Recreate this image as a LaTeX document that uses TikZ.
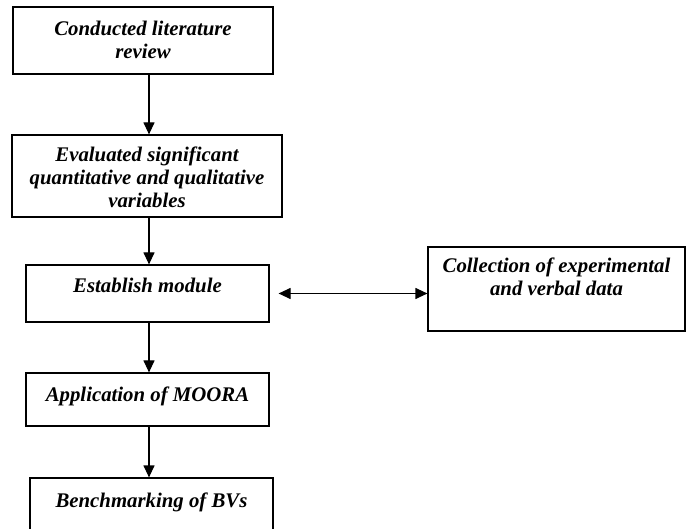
\documentclass[tikz,border=0pt]{standalone}
\usepackage{fontspec}
\setmainfont{Liberation Serif}
\usetikzlibrary{arrows.meta}
\tikzset{
	stepbox/.style={draw, line width=1.2pt, inner xsep=2pt, inner ysep=0pt, align=center,
		font=\fontsize{20.8}{23}\selectfont\bfseries\itshape},
	flow/.style={line width=1.2pt, -{Triangle[length=12pt,width=11pt]}},
	twoway/.style={line width=1.2pt, {Triangle[length=12pt,width=11pt]}-{Triangle[length=12pt,width=11pt]}}
}

\begin{document}
\begin{tikzpicture}[x=1pt,y=-1pt]
		\clip (0,0) rectangle (686,529);
		\coordinate (axis) at (149,0);
		%
		\node (review)[stepbox, minimum width=260pt, text height=52pt, text depth=15pt] at (143,40.5) {Conducted literature\\review};
		\node (variables)[stepbox, minimum width=270pt, text height=73pt, text depth=9pt] at (147,176) {Evaluated significant\\quantitative and qualitative\\variables};
		\node (module)[stepbox, minimum width=243pt, text height=28pt, text depth=29pt] at (147.5,293.5) {Establish module};
		\node (data)[stepbox, minimum width=257pt, text height=49pt, text depth=35pt] at (556.5,289) {Collection of experimental\\and verbal data};
		\node (moora)[stepbox, minimum width=243pt, text height=29pt, text depth=24pt] at (147.5,399.5) {Application of MOORA};
		\node (bench)[stepbox, minimum width=243pt, text height=29pt, text depth=41pt] at (151.5,513) {Benchmarking of BVs};
		%
		\draw [flow](review.south -| axis)--(variables.north -| axis);
		\draw [flow](variables.south -| axis)--(module.north -| axis);
		\draw [flow](module.south -| axis)--(moora.north -| axis);
		\draw [flow](moora.south -| axis)--(bench.north -| axis);
		\draw [twoway]([xshift=9pt]module.east)--(module.east -| data.west);
	\end{tikzpicture}
\end{document}
